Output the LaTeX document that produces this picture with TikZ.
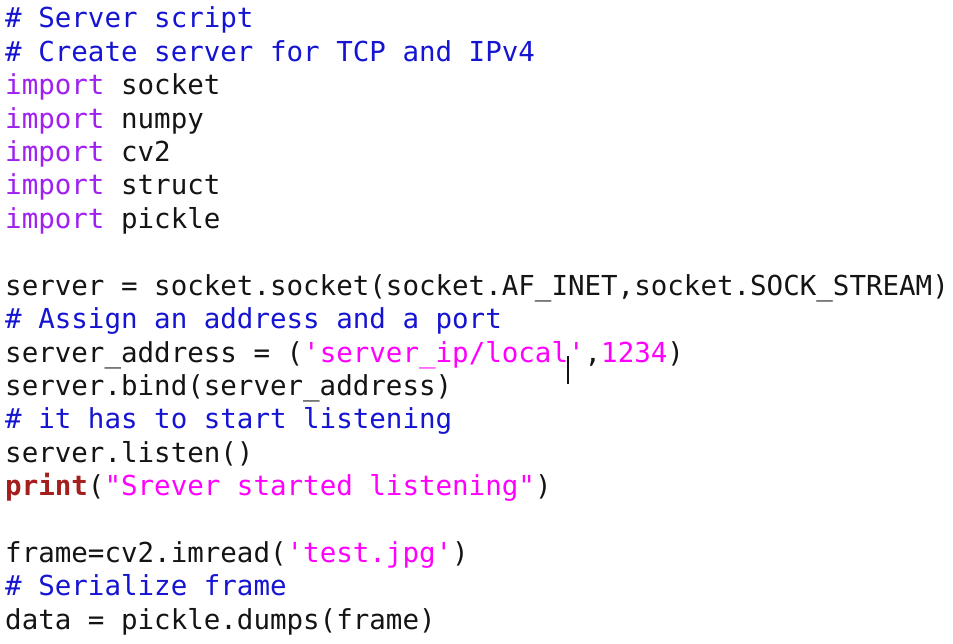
\documentclass[tikz,border=0pt]{standalone}
\usepackage{fontspec}
\newfontfamily\code{DejaVu Sans Mono}
\definecolor{cmt}{RGB}{20,20,210}
\definecolor{kw}{RGB}{160,32,240}
\definecolor{str}{RGB}{255,0,255}
\definecolor{prt}{RGB}{165,30,30}
\definecolor{txt}{RGB}{20,20,20}
\newcommand{\cm}[1]{\textcolor{cmt}{#1}}
\newcommand{\kw}[1]{\textcolor{kw}{#1}}
\newcommand{\st}[1]{\textcolor{str}{#1}}
\begin{document}
\begin{tikzpicture}[x=1pt,y=-1pt,
  ln/.style={anchor=base west,inner sep=0pt,text=txt,font=\code\fontsize{27.5}{33}\selectfont}]
\useasboundingbox (0,0) rectangle (953,644);
\foreach \i/\t in {0/{\cm{\# Server script}},
1/{\cm{\# Create server for TCP and IPv4}},
2/{\kw{import} socket},
3/{\kw{import} numpy},
4/{\kw{import} cv2},
5/{\kw{import} struct},
6/{\kw{import} pickle},
8/{server = socket.socket(socket.AF\_INET,socket.SOCK\_STREAM)},
9/{\cm{\# Assign an address and a port}},
10/{server\_address = (\st{'server\_ip/local'},\st{1234})},
11/{server.bind(server\_address)},
12/{\cm{\# it has to start listening}},
13/{server.listen()},
14/{\textcolor{prt}{\bfseries print}(\st{"Srever started listening"})},
16/{frame=cv2.imread(\st{'test.jpg'})},
17/{\cm{\# Serialize frame}},
18/{data = pickle.dumps(frame)}}
{\node[ln] (l\i) at (5,{28+33.4*\i}) {\t};}
\coordinate (cur) at (568,{28+33.4*10});
\draw[txt,line width=1.2pt] ([yshift=6]cur) -- ([yshift=-22]cur);
\end{tikzpicture}
\end{document}
